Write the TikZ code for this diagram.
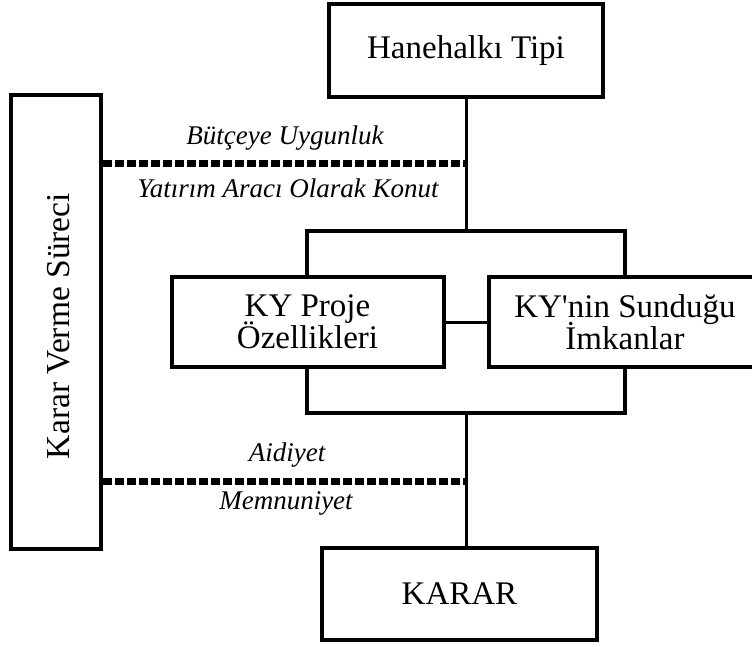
\documentclass[tikz,border=0pt]{standalone}
\usepackage{fontspec}
\setmainfont{Liberation Serif}
\begin{document}
\begin{tikzpicture}[x=1pt,y=-1pt,
  box/.style={draw,line width=4pt,inner sep=0pt,align=center,font=\fontsize{33}{33}\selectfont},
  conn/.style={line width=3pt},
  brk/.style={line width=4pt},
  dsh/.style={line width=7pt,dash pattern=on 8.5pt off 3.5pt},
  lab/.style={font=\fontsize{27}{28}\selectfont\itshape,inner sep=0pt}]
\useasboundingbox (0,0) rectangle (752,646);
\clip (0,0) rectangle (752,646);
\node[box,minimum width=274pt,minimum height=93pt] (hane) at (466,50.5) {Hanehalkı Tipi};
\node[box,minimum width=90pt,minimum height=454pt] (karar) at (56,322) {};
\node[rotate=90,inner sep=0pt,font=\fontsize{33.5}{33.5}\selectfont] (kvs) at (59,326) {Karar Verme Süreci};
\node[box,minimum width=272pt,minimum height=90pt] (proje) at (307.5,322) {KY Proje\\[-3pt]Özellikleri};
\node[box,minimum width=290pt,minimum height=90pt] (imkan) at (634,322) {};
\node[font=\fontsize{33}{33}\selectfont,align=center,inner sep=0pt] (imkant) at (625,322) {KY\textquotesingle nin Sunduğu\\[-3pt]İmkanlar};
\node[box,minimum width=275pt,minimum height=92pt] (sonuc) at (459.5,594) {KARAR};
\coordinate (t1) at (466,231);
\coordinate (tl) at (307,231);
\coordinate (tr) at (625,231);
\coordinate (b1) at (466,413);
\coordinate (bl) at (307,413);
\coordinate (br) at (625,413);
\coordinate (d1) at (466,163);
\coordinate (d2) at (466,481);
\draw[conn] (hane.south) -- (t1);
\draw[brk,line cap=rect] (proje.north -| tl) -- (tl) -- (tr) -- (imkan.north -| tr);
\draw[brk,line cap=rect] (proje.south -| bl) -- (bl) -- (br) -- (imkan.south -| br);
\draw[conn] (proje.east) -- (imkan.west);
\draw[conn] (b1) -- (b1 |- sonuc.north);
\draw[dsh] (karar.east |- d1) -- (d1);
\draw[dsh] (karar.east |- d2) -- (d2);
\node[lab] (l1) at (285,138) {Bütçeye Uygunluk};
\node[lab] (l2) at (288,188) {Yatırım Aracı Olarak Konut};
\node[lab] (l3) at (287,455) {Aidiyet};
\node[lab] (l4) at (286,503) {Memnuniyet};
\end{tikzpicture}
\end{document}
